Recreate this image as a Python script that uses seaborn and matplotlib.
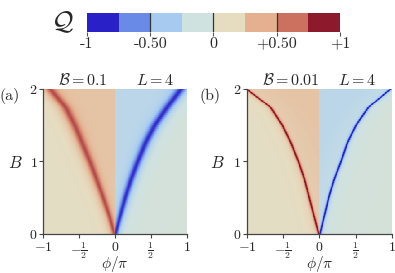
import numpy as np
import matplotlib
matplotlib.use("Agg")
import matplotlib.pyplot as plt
import seaborn as sns
from matplotlib.colors import LinearSegmentedColormap, ListedColormap, Normalize
from matplotlib.colorbar import ColorbarBase

# colour levels of the Q scale (8 bins from -1 to +1)
q_colors = ["#2a20c8", "#6a8ae8", "#a6caf0", "#cfe2e0",
            "#e6dcc0", "#e4b090", "#cc7060", "#8c1a2c"]
q_ticks = [-1, -0.5, 0, 0.5, 1]
q_ticklabels = ["-1", "-0.50", "0", "+0.50", "+1"]

# ridge positions phi/pi at these B values
b_knots = [0.0, 0.25, 0.5, 0.75, 1.0, 1.25, 1.5, 1.75, 2.0]
red_a = [-0.01, -0.08, -0.165, -0.255, -0.35, -0.455, -0.56, -0.69, -0.90]
blue_a = [0.01, 0.075, 0.145, 0.225, 0.32, 0.425, 0.555, 0.73, 0.92]
red_b = [-0.01, -0.075, -0.14, -0.205, -0.29, -0.39, -0.51, -0.675, -1.0]
blue_b = [0.01, 0.07, 0.13, 0.205, 0.30, 0.385, 0.505, 0.68, 0.98]
# ridge half widths (phi/pi) and peak heights
width_a = [0.045, 0.055, 0.062, 0.068, 0.074, 0.08, 0.085, 0.09, 0.095]
width_b = [0.02, 0.02, 0.021, 0.021, 0.022, 0.022, 0.023, 0.024, 0.026]
peak_a = [0.55, 0.68]      # red, blue
peak_b = [0.78, 0.78]
# background levels: outer side / inner side (towards phi=0) of each ridge
bg_left = [0.09, 0.26]
bg_right = [0.07, 0.25]

panels = [("(a)", r"$\mathcal{B}=0.1$", red_a, blue_a, width_a, peak_a),
          ("(b)", r"$\mathcal{B}=0.01$", red_b, blue_b, width_b, peak_b)]

nx, ny = 320, 220


def build_field(red, blue, width, peak):
    phi = np.linspace(-1, 1, nx)[None, :]
    B = np.linspace(2, 0, ny)[:, None]
    rr = np.interp(B, b_knots, red)
    rb = np.interp(B, b_knots, blue)
    w = np.interp(B, b_knots, width)
    dl = phi - rr
    left = bg_left[0] + (bg_left[1] - bg_left[0]) / (1 + np.exp(-dl / 0.1)) + peak[0] / (1 + (dl / w) ** 2) ** 1.5
    dr = phi - rb
    right = bg_right[0] + (bg_right[1] - bg_right[0]) / (1 + np.exp(dr / 0.1)) + peak[1] / (1 + (dr / w) ** 2) ** 1.5
    Z = np.where(phi < 0, left, -right)
    return np.clip(Z, -1, 1)


sns.set_theme(style="ticks")
plt.rcParams["mathtext.fontset"] = "cm"
plt.rcParams["font.family"] = ["DejaVu Serif"]

nodes = [0, 1 / 16, 3 / 16, 5 / 16, 7 / 16, 9 / 16, 11 / 16, 13 / 16, 15 / 16, 1]
cont_cmap = LinearSegmentedColormap.from_list(
    "q", list(zip(nodes, [q_colors[0]] + q_colors + [q_colors[-1]])))

fig = plt.figure(figsize=(3.95, 2.73), dpi=100)
axes_pos = [[0.109, 0.143, 0.364, 0.531], [0.625, 0.143, 0.367, 0.531]]
label_x = [[0.025, 0.038], [0.532, 0.549]]
title_x = [[0.28, 0.78], [0.30, 0.76]]

for i, (tag, title, red, blue, width, peak) in enumerate(panels):
    ax = fig.add_axes(axes_pos[i])
    Z = build_field(red, blue, width, peak)
    sns.heatmap(Z, ax=ax, cmap=cont_cmap, vmin=-1, vmax=1, cbar=False,
                xticklabels=False, yticklabels=False, rasterized=True)
    ax.set_xlim(0, nx)
    ax.set_ylim(ny, 0)
    ax.set_xticks([0, nx / 4, nx / 2, 3 * nx / 4, nx])
    ax.set_xticklabels([r"$-1$", r"$-\frac{1}{2}$", r"$0$", r"$\frac{1}{2}$", r"$1$"], fontsize=10, va="top")
    ax.set_yticks([ny, ny / 2, 0])
    ax.set_yticklabels([r"$0$", r"$1$", r"$2$"], fontsize=10, rotation=0)
    for s in ["left", "bottom"]:
        ax.spines[s].set_visible(True)
        ax.spines[s].set_color("#444444")
        ax.spines[s].set_linewidth(0.9)
    ax.tick_params(direction="out", length=3, width=0.8, color="#444444")
    ax.tick_params(axis="x", pad=1.5)
    ax.tick_params(axis="y", pad=1)
    x_mid = axes_pos[i][0] + axes_pos[i][2] / 2
    fig.text(x_mid, 1 - 263.5 / 273, r"$\phi/\pi$", ha="center", va="center", fontsize=11)
    ax.text(title_x[i][0], 1.062, title, transform=ax.transAxes, ha="center", va="center", fontsize=11.5)
    ax.text(title_x[i][1], 1.062, r"$L=4$", transform=ax.transAxes, ha="center", va="center", fontsize=11.5)
    fig.text(label_x[i][0], 1 - 96 / 273, tag, ha="center", va="center", fontsize=11.5, family="cmr10")
    fig.text(label_x[i][1], 1 - 163 / 273, r"$B$", ha="center", va="center", fontsize=12)

# discrete colour scale on top
cax = fig.add_axes([0.220, 0.883, 0.641, 0.070])
cb = ColorbarBase(cax, cmap=ListedColormap(q_colors), norm=Normalize(-1, 1),
                  orientation="horizontal", ticks=q_ticks)
cb.outline.set_visible(False)
cax.set_xticklabels(q_ticklabels, fontsize=11.5, family="cmr10")
cax.tick_params(direction="out", length=3, width=0.8, color="#555555", pad=0.5)
for t in [-0.5, 0, 0.5]:
    cax.axvline(t, color="#333333", lw=0.9)
fig.text(62 / 395, 1 - 22 / 273, r"$\mathcal{Q}$", ha="center", va="center", fontsize=19)

fig.savefig("out.png", dpi=100)
